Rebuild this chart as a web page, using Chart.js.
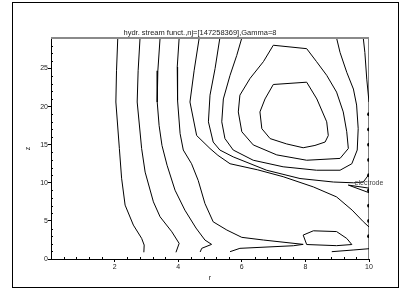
<!DOCTYPE html>
<html>
<head>
<meta charset="utf-8">
<script src="https://cdn.jsdelivr.net/npm/chart.js@4.4.0/dist/chart.umd.min.js"></script>
<style>
  body { margin: 0; background: #fff; }
  #wrap { position: relative; width: 400px; height: 289px; }
  #frame { position: absolute; left: 12px; top: 2px; width: 385px; height: 284px; border: 1px solid #000; }
  canvas { position: absolute; left: 0; top: 0; }
</style>
</head>
<body>
<div id="wrap">
  <div id="frame"></div>
  <canvas id="myChart" width="400" height="289"></canvas>
</div>
<script>
const titleText = "hydr. stream funct.,nj=[147258369],Gamma=8";
const xTicks = [2, 4, 6, 8, 10];
const yTicks = [0, 5, 10, 15, 20, 25];

// contour lines, r and z values
const c1R = [2.10, 2.06, 2.04, 2.15, 2.22, 2.33, 2.59, 2.85, 2.93, 2.92];
const c1Z = [29, 24.7, 20.6, 14.5, 10.6, 7.07, 4.45, 2.71, 1.83, 0.88];
const c2R = [2.80, 2.74, 2.71, 2.85, 2.96, 3.22, 3.43, 3.80, 4.03, 3.93];
const c2Z = [29, 24.7, 20.6, 14.5, 11.4, 7.5, 5.54, 3.57, 2.05, 0.88];
const c3R = [3.43, 3.36, 3.34, 3.40, 3.49, 3.65, 3.90, 4.21, 4.56, 4.84, 5.05, 4.74, 4.69];
const c3Z = [29, 24.7, 20.6, 17.5, 14.9, 12.3, 9.03, 6.41, 4.06, 2.49, 1.92, 1.40, 0.92];
const c4R = [4.03, 3.97, 3.98, 4.06, 4.16, 4.42, 4.63, 4.84, 5.10, 5.53, 6.0, 6.68, 7.93, 7.62, 5.94, 5.63];
const c4Z = [29, 25.2, 20.8, 16.45, 14.3, 12.5, 10.3, 7.29, 4.88, 3.80, 2.84, 2.49, 1.92, 1.74, 1.40, 0.96];
const c5R = [4.66, 4.50, 4.37, 4.58, 5.0, 5.25, 5.63, 6.5, 7.30, 8.25, 8.98, 9.47, 9.82, 10.0];
const c5Z = [29, 24.7, 20.6, 16.2, 14.5, 13.6, 12.5, 11.7, 10.8, 9.46, 8.15, 6.41, 4.9, 4.2];
const c6R = [5.31, 5.16, 5.0, 4.95, 5.10, 5.31, 5.73, 6.78, 7.83, 8.88, 9.51, 9.82, 9.98];
const c6Z = [29, 25.0, 21.5, 18.0, 15.35, 14.3, 13.4, 11.65, 10.56, 10.1, 10.0, 10.1, 11.0];
const uR = [6.0, 5.84, 5.63, 5.42, 5.37, 5.47, 5.73, 6.36, 7.30, 8.35, 9.09, 9.46, 9.63, 9.66, 9.61, 9.51, 9.30, 9.09, 8.98];
const uZ = [29, 26.7, 24.1, 21.0, 18.0, 15.8, 14.3, 12.96, 12.1, 11.65, 11.65, 12.5, 14.3, 17.1, 20.2, 22.3, 24.5, 27.1, 29];
const oR = [6.99, 8.04, 8.35, 8.67, 8.98, 9.19, 9.30, 9.35, 9.09, 8.04, 7.10, 6.36, 6.0, 5.89, 5.94, 6.26, 6.68, 6.99];
const oZ = [28.05, 27.6, 25.9, 24.1, 21.9, 19.3, 16.7, 14.5, 13.2, 12.96, 13.66, 14.97, 16.7, 19.3, 21.5, 23.7, 25.9, 28.05];
const iR = [6.99, 8.04, 8.36, 8.67, 8.72, 8.62, 8.30, 7.93, 7.41, 6.89, 6.63, 6.57, 6.73, 6.99];
const iZ = [22.9, 23.2, 21.0, 18.0, 16.2, 15.35, 14.9, 14.6, 15.1, 15.8, 17.1, 19.3, 21.0, 22.9];
const eR = [9.82, 9.87, 9.93, 10.0];
const eZ = [29, 27.1, 23.6, 20.6];
const wR = [10, 9.35, 10];
const wZ = [9.3, 9.7, 8.7];
const sR = [7.93, 8.25, 8.98, 9.3, 9.46, 8.98, 8.04, 7.93];
const sZ = [3.14, 3.7, 3.6, 2.7, 1.9, 1.75, 1.9, 3.14];
const bR = [8.83, 9.5, 10];
const bZ = [0.96, 1.18, 1.35];
const wallR = [10, 10];
const wallZ = [0, 29];

// electrode points on r = 10
const electrodeZ = [3, 5, 7, 9, 11, 13, 15, 17, 19];
const electrodeLabel = "electrode";

const toPts = (rs, zs) => rs.map((r, i) => ({ x: r, y: zs[i] }));

const lines = [[c1R, c1Z], [c2R, c2Z], [c3R, c3Z], [c4R, c4Z], [c5R, c5Z], [c6R, c6Z],
  [uR, uZ], [oR, oZ], [iR, iZ], [eR, eZ], [wR, wZ], [sR, sZ], [bR, bZ], [wallR, wallZ]];

let datasets = lines.map(l => ({
  data: toPts(l[0], l[1]),
  showLine: true,
  borderColor: '#000',
  borderWidth: 1,
  pointRadius: 0,
  tension: 0
}));
datasets.push({
  data: electrodeZ.map(z => ({ x: 10, y: z })),
  showLine: false,
  pointRadius: 1.9,
  backgroundColor: '#000',
  borderColor: '#000',
  borderWidth: 0
});

const font = 'Liberation Sans, Arial, sans-serif';

// small inside ticks, top border and the electrode label
const extras = {
  id: 'extras',
  afterDatasetsDraw(chart) {
    const ctx = chart.ctx;
    const xs = chart.scales.x, ys = chart.scales.y;
    const a = chart.chartArea;
    ctx.save();
    ctx.strokeStyle = '#000';
    ctx.lineWidth = 1;
    ctx.beginPath();
    for (let v = 1; v < 29; v++) {
      if (v % 5 === 0) continue;
      const py = Math.round(ys.getPixelForValue(v)) + 0.5;
      ctx.moveTo(a.left, py);
      ctx.lineTo(a.left + 2, py);
    }
    for (let k = 1; k < 25; k++) {
      if (k % 5 === 0) continue;
      const px = Math.round(xs.getPixelForValue(k * 0.4)) + 0.5;
      ctx.moveTo(px, a.bottom);
      ctx.lineTo(px, a.bottom - 2);
    }
    ctx.stroke();
    ctx.strokeStyle = '#8a8a8a';
    ctx.lineWidth = 2;
    ctx.beginPath();
    ctx.moveTo(a.left, a.top);
    ctx.lineTo(a.right, a.top);
    ctx.stroke();
    ctx.fillStyle = '#444';
    ctx.font = '7px ' + font;
    ctx.textAlign = 'center';
    ctx.textBaseline = 'middle';
    ctx.fillText(electrodeLabel, xs.getPixelForValue(10), ys.getPixelForValue(10));
    ctx.restore();
  }
};

new Chart(document.getElementById('myChart'), {
  type: 'scatter',
  data: { datasets: datasets },
  plugins: [extras],
  options: {
    responsive: false,
    animation: false,
    devicePixelRatio: 1,
    layout: { padding: 0 },
    plugins: {
      legend: { display: false },
      tooltip: { enabled: false },
      title: {
        display: true,
        text: titleText,
        color: '#222',
        font: { family: font, size: 7.5, weight: 'normal' },
        padding: { top: 28, bottom: 1 }
      }
    },
    scales: {
      x: {
        type: 'linear',
        min: 0, max: 10,
        afterBuildTicks: s => { s.ticks = xTicks.map(v => ({ value: v })); },
        afterFit: s => { s.height = 30; },
        grid: { drawOnChartArea: false, drawTicks: true, tickLength: 3, color: '#000' },
        border: { color: '#000', width: 1 },
        ticks: { color: '#222', font: { family: font, size: 7 }, padding: 1, maxRotation: 0 },
        title: { display: true, text: 'r', color: '#222', font: { family: font, size: 7 }, padding: { top: 0, bottom: 6.8 } }
      },
      y: {
        type: 'linear',
        min: 0, max: 29,
        afterBuildTicks: s => { s.ticks = yTicks.map(v => ({ value: v })); },
        afterFit: s => { s.width = 51; },
        grid: { drawOnChartArea: false, drawTicks: true, tickLength: 3, color: '#000' },
        border: { color: '#000', width: 1 },
        ticks: { color: '#222', font: { family: font, size: 7 }, padding: 0 },
        title: { display: true, text: 'z', color: '#222', font: { family: font, size: 7 }, padding: { top: 24, bottom: 0 } }
      },
      y2: {
        type: 'linear',
        position: 'right',
        display: true,
        afterFit: s => { s.width = 31; },
        grid: { display: false },
        border: { display: false },
        ticks: { display: false }
      }
    }
  }
});
</script>
</body>
</html>
